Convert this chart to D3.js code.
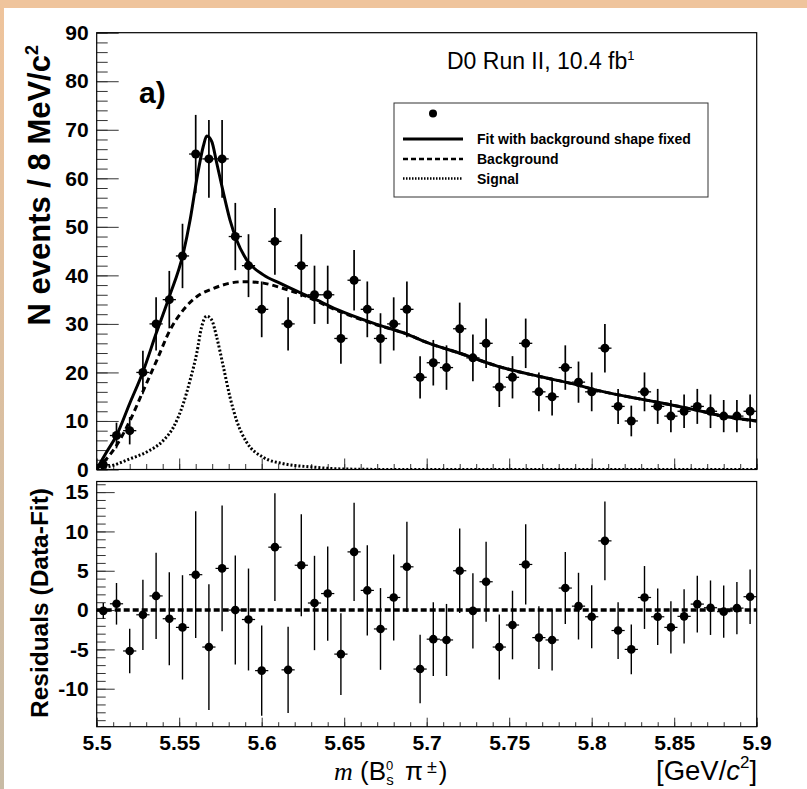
<!DOCTYPE html>
<html>
<head>
<meta charset="utf-8">
<script src="https://cdn.jsdelivr.net/npm/d3@7"></script>
<style>
  body { margin: 0; background: #fff; }
  text { font-family: "Liberation Sans", Arial, sans-serif; }
</style>
</head>
<body>
<script>
// bin centres (8 MeV bins), counts per bin and residuals (data - fit)
const binCenters = [5.504, 5.512, 5.520, 5.528, 5.536, 5.544, 5.552, 5.560, 5.568, 5.576,
  5.584, 5.592, 5.600, 5.608, 5.616, 5.624, 5.632, 5.640, 5.648, 5.656,
  5.664, 5.672, 5.680, 5.688, 5.696, 5.704, 5.712, 5.720, 5.728, 5.736,
  5.744, 5.752, 5.760, 5.768, 5.776, 5.784, 5.792, 5.800, 5.808, 5.816,
  5.824, 5.832, 5.840, 5.848, 5.856, 5.864, 5.872, 5.880, 5.888, 5.896];
const counts = [1, 7, 8, 20, 30, 35, 44, 65, 64, 64,
  48, 42, 33, 47, 30, 42, 36, 36, 27, 39,
  33, 27, 30, 33, 19, 22, 21, 29, 23, 26,
  17, 19, 26, 16, 15, 21, 18, 16, 25, 13,
  10, 16, 13, 11, 12, 13, 12, 11, 11, 12];
const residuals = [-0.1, 0.8, -5.2, -0.6, 1.8, -1.1, -2.2, 4.5, -4.7, 5.3,
  0, -1.2, -7.7, 8.0, -7.6, 5.7, 0.9, 2.1, -5.6, 7.4,
  2.5, -2.4, 1.6, 5.5, -7.5, -3.7, -3.8, 5.0, -0.1, 3.6,
  -4.7, -1.9, 5.8, -3.5, -3.8, 2.8, 0.5, -0.85, 8.8, -2.6,
  -5.0, 1.6, -0.85, -2.2, -0.8, 0.76, 0.3, -0.2, 0.25, 1.7];

// fit curves
const fitMass = [5.500, 5.506, 5.512, 5.520, 5.528, 5.536, 5.544, 5.5525, 5.5566, 5.5606,
  5.5646, 5.5667, 5.5697, 5.5727, 5.5768, 5.5808, 5.5848, 5.5909, 5.601, 5.611,
  5.621, 5.631, 5.6455, 5.668, 5.688, 5.700, 5.7206, 5.7428, 5.7691, 5.7893,
  5.8034, 5.8236, 5.8424, 5.8626, 5.8828, 5.900];
const fitTotal = [0.1, 3.6, 7.0, 13.6, 20.1, 28.0, 35.6, 44.6, 51.4, 59.7,
  66.6, 68.7, 67.6, 63.2, 57.0, 51.4, 47.3, 43.2, 40.1, 38.4,
  36.8, 35.3, 33.0, 30.1, 27.9, 26.2, 23.9, 21.3, 19.1, 17.6,
  16.3, 14.9, 13.7, 12.3, 10.8, 10.0];

const bgMass = [5.500, 5.5121, 5.5202, 5.5283, 5.5364, 5.5444, 5.5525, 5.5606, 5.5707, 5.5808,
  5.5889, 5.601, 5.6131, 5.6253, 5.6455, 5.668, 5.688, 5.700, 5.7206, 5.7428,
  5.7691, 5.7893, 5.8034, 5.8236, 5.8424, 5.8626, 5.8828, 5.900];
const bgValues = [0.1, 5.0, 10.1, 16.3, 22.5, 28.7, 32.9, 35.6, 37.3, 38.4,
  38.7, 38.4, 37.3, 35.9, 32.8, 30.0, 27.9, 26.2, 23.9, 21.3,
  19.1, 17.6, 16.3, 14.9, 13.7, 12.3, 10.8, 10.0];

const sigMass = [5.500, 5.5061, 5.5202, 5.5303, 5.5404, 5.5465, 5.5525, 5.5566, 5.5606, 5.5636,
  5.5667, 5.5697, 5.5727, 5.5768, 5.5808, 5.5848, 5.5909, 5.601, 5.6131, 5.6313,
  5.6455, 5.670, 5.700, 5.900];
const sigValues = [0.2, 0.5, 2.2, 3.6, 6.0, 8.7, 13.6, 18.4, 23.9, 29.4,
  31.6, 30.8, 27.3, 21.1, 14.9, 10.1, 5.6, 2.5, 1.2, 0.5,
  0.15, 0.02, 0, 0];

const xTicks = [5.5, 5.55, 5.6, 5.65, 5.7, 5.75, 5.8, 5.85, 5.9];
const yTicksTop = [0, 10, 20, 30, 40, 50, 60, 70, 80, 90];
const yTicksRes = [-10, -5, 0, 5, 10, 15];

const w = 807, h = 789;
const svg = d3.select("body").append("svg")
  .attr("width", w)
  .attr("height", h);

// orange page frame
const defs = svg.append("defs");
const grad = defs.append("linearGradient").attr("id", "edge")
  .attr("x1", 0).attr("y1", 0).attr("x2", 0).attr("y2", 1);
grad.append("stop").attr("offset", "0%").attr("stop-color", "#efc49c");
grad.append("stop").attr("offset", "100%").attr("stop-color", "#c8bba5");
svg.append("rect").attr("x", 0).attr("y", 0).attr("width", w).attr("height", 8).attr("fill", "#efc49c");
svg.append("rect").attr("x", 0).attr("y", 0).attr("width", 4).attr("height", h).attr("fill", "url(#edge)");

const left = 96.7, right = 756.7;
const x = d3.scaleLinear().domain([5.5, 5.9]).range([left, right]);
const yTop = d3.scaleLinear().domain([0, 90]).range([469.5, 32.7]);
const yRes = d3.scaleLinear().domain([-14.83, 16.35]).range([726.7, 481.5]);

defs.append("clipPath").attr("id", "clipTop").append("rect")
  .attr("x", left).attr("y", 32.7).attr("width", right - left).attr("height", 469.5 - 32.7);

const tickStyle = g => {
  g.select(".domain").remove();
  g.selectAll(".tick line").attr("stroke", "#333").attr("stroke-width", 1);
  g.selectAll("text").attr("font-size", 21).attr("font-weight", "bold").attr("fill", "#000");
};
const plain = d => String(d);

// ---------- top panel axes ----------
svg.append("g").attr("transform", `translate(${left},0)`)
  .call(d3.axisLeft(yTop).tickValues(d3.range(0, 90.1, 2)).tickSize(-11).tickFormat(""))
  .call(tickStyle);
svg.append("g").attr("transform", `translate(${left},0)`)
  .call(d3.axisLeft(yTop).tickValues(yTicksTop).tickSize(-22).tickPadding(8).tickFormat(plain))
  .call(tickStyle);
svg.append("g").attr("transform", `translate(0,${yTop(0)})`)
  .call(d3.axisBottom(x).tickValues(d3.range(5.5, 5.9001, 0.01)).tickSize(-5.5).tickFormat(""))
  .call(tickStyle);
svg.append("g").attr("transform", `translate(0,${yTop(0)})`)
  .call(d3.axisBottom(x).tickValues(xTicks).tickSize(-11).tickFormat(""))
  .call(tickStyle);

// ---------- top panel curves ----------
const plot = svg.append("g").attr("clip-path", "url(#clipTop)");
const curve = (ms, vs) => d3.line()
  .x((d, i) => x(ms[i]))
  .y(d => yTop(d))
  .curve(d3.curveMonotoneX)(vs);

plot.append("path").attr("d", curve(sigMass, sigValues))
  .attr("fill", "none").attr("stroke", "#000").attr("stroke-width", 3)
  .attr("stroke-dasharray", "2,2");
plot.append("path").attr("d", curve(bgMass, bgValues))
  .attr("fill", "none").attr("stroke", "#000").attr("stroke-width", 3)
  .attr("stroke-dasharray", "6,4");
plot.append("path").attr("d", curve(fitMass, fitTotal))
  .attr("fill", "none").attr("stroke", "#000").attr("stroke-width", 3);

// data points
const pts = svg.append("g").selectAll("g")
  .data(binCenters)
  .enter().append("g");
pts.append("line")
  .attr("x1", d => x(d)).attr("x2", d => x(d))
  .attr("y1", (d, i) => yTop(Math.max(0, counts[i] - Math.sqrt(counts[i]))))
  .attr("y2", (d, i) => yTop(counts[i] + Math.sqrt(counts[i])))
  .attr("stroke", "#000").attr("stroke-width", 1.7);
pts.append("line")
  .attr("x1", d => x(d - 0.004)).attr("x2", d => x(d + 0.004))
  .attr("y1", (d, i) => yTop(counts[i])).attr("y2", (d, i) => yTop(counts[i]))
  .attr("stroke", "#000").attr("stroke-width", 1.3);
pts.append("circle")
  .attr("cx", d => x(d)).attr("cy", (d, i) => yTop(counts[i]))
  .attr("r", 4.5).attr("fill", "#000");

// frame
svg.append("rect").attr("x", left).attr("y", 32.7)
  .attr("width", right - left).attr("height", 469.5 - 32.7)
  .attr("fill", "none").attr("stroke", "#000").attr("stroke-width", 1.2);

// texts in top panel
const run = svg.append("text").attr("x", 447).attr("y", 69)
  .attr("font-size", 23).attr("fill", "#000");
run.append("tspan").text("D0 Run II, 10.4 fb");
run.append("tspan").attr("font-size", 13).attr("dy", -9).text("1");

svg.append("text").attr("x", 139).attr("y", 103)
  .attr("font-size", 30).attr("font-weight", "bold").text("a)");

// legend
const legend = svg.append("g").attr("id", "legend");
legend.append("rect").attr("x", 394).attr("y", 103).attr("width", 314).attr("height", 94)
  .attr("fill", "#fff").attr("stroke", "#333").attr("stroke-width", 1);
legend.append("circle").attr("cx", 433).attr("cy", 113.5).attr("r", 4).attr("fill", "#000");
const legRows = [
  {y: 139, dash: null, w: 3, label: "Fit with background shape fixed"},
  {y: 159, dash: "5,3", w: 2.5, label: "Background"},
  {y: 178.5, dash: "1.5,1.5", w: 2.5, label: "Signal"}
];
legRows.forEach(r => {
  legend.append("line").attr("x1", 403).attr("x2", 463).attr("y1", r.y).attr("y2", r.y)
    .attr("stroke", "#000").attr("stroke-width", r.w)
    .attr("stroke-dasharray", r.dash);
  legend.append("text").attr("x", 477).attr("y", r.y + 5)
    .attr("font-size", 14).attr("font-weight", "bold").text(r.label);
});

// y title top
svg.append("text")
  .attr("transform", "translate(50,45) rotate(-90)")
  .attr("text-anchor", "end")
  .attr("font-size", 31).attr("font-weight", "bold")
  .call(t => {
    t.append("tspan").text("N events / 8 MeV/c");
    t.append("tspan").attr("font-size", 18).attr("dy", -12).text("2");
  });

// ---------- residual panel ----------
svg.append("g").attr("transform", `translate(${left},0)`)
  .call(d3.axisLeft(yRes).tickValues(d3.range(-14, 16.1, 1)).tickSize(-9).tickFormat(""))
  .call(tickStyle);
svg.append("g").attr("transform", `translate(${left},0)`)
  .call(d3.axisLeft(yRes).tickValues(yTicksRes).tickSize(-18).tickPadding(8).tickFormat(plain))
  .call(tickStyle);
svg.append("g").attr("transform", `translate(0,${yRes.range()[0]})`)
  .call(d3.axisBottom(x).tickValues(d3.range(5.5, 5.9001, 0.01)).tickSize(-4.5).tickFormat(""))
  .call(tickStyle);
svg.append("g").attr("transform", `translate(0,${yRes.range()[0]})`)
  .call(d3.axisBottom(x).tickValues(xTicks).tickSize(-9).tickPadding(8).tickFormat(plain))
  .call(tickStyle);

svg.append("line").attr("x1", left).attr("x2", right)
  .attr("y1", yRes(0)).attr("y2", yRes(0))
  .attr("stroke", "#000").attr("stroke-width", 3.5).attr("stroke-dasharray", "6,3");

const rpts = svg.append("g").selectAll("g")
  .data(binCenters)
  .enter().append("g");
rpts.append("line")
  .attr("x1", d => x(d)).attr("x2", d => x(d))
  .attr("y1", (d, i) => yRes(residuals[i] - Math.sqrt(counts[i])))
  .attr("y2", (d, i) => yRes(residuals[i] + Math.sqrt(counts[i])))
  .attr("stroke", "#000").attr("stroke-width", 1.4);
rpts.append("line")
  .attr("x1", d => x(d - 0.004)).attr("x2", d => x(d + 0.004))
  .attr("y1", (d, i) => yRes(residuals[i])).attr("y2", (d, i) => yRes(residuals[i]))
  .attr("stroke", "#000").attr("stroke-width", 1.2);
rpts.append("circle")
  .attr("cx", d => x(d)).attr("cy", (d, i) => yRes(residuals[i]))
  .attr("r", 4.3).attr("fill", "#000");

svg.append("rect").attr("x", left).attr("y", 481.5)
  .attr("width", right - left).attr("height", 726.7 - 481.5)
  .attr("fill", "none").attr("stroke", "#000").attr("stroke-width", 1.2);

svg.append("text")
  .attr("transform", "translate(48,488) rotate(-90)")
  .attr("text-anchor", "end")
  .attr("font-size", 24.5).attr("font-weight", "bold")
  .text("Residuals (Data-Fit)");

// x title
const xt = svg.append("text").attr("x", 334).attr("y", 780).attr("font-size", 26);
xt.append("tspan").attr("font-family", "Liberation Serif, serif").attr("font-style", "italic").text("m");
xt.append("tspan").text(" (B");
xt.append("tspan").attr("font-size", 13).attr("dy", -10).text("0");
xt.append("tspan").attr("font-size", 15).attr("dx", -7).attr("dy", 15).text("s");
xt.append("tspan").attr("dx", 4).attr("dy", -5).text(" \u03c0");
xt.append("tspan").attr("font-size", 18).attr("dx", 4).attr("dy", -7).text("\u00b1");
xt.append("tspan").attr("dx", 2).attr("dy", 7).text(")");

const unit = svg.append("text").attr("x", 656).attr("y", 780).attr("font-size", 27.5);
unit.append("tspan").text("[GeV/");
unit.append("tspan").attr("font-style", "italic").text("c");
unit.append("tspan").attr("font-size", 17).attr("dy", -12).text("2");
unit.append("tspan").attr("dy", 12).text("]");
</script>
</body>
</html>
